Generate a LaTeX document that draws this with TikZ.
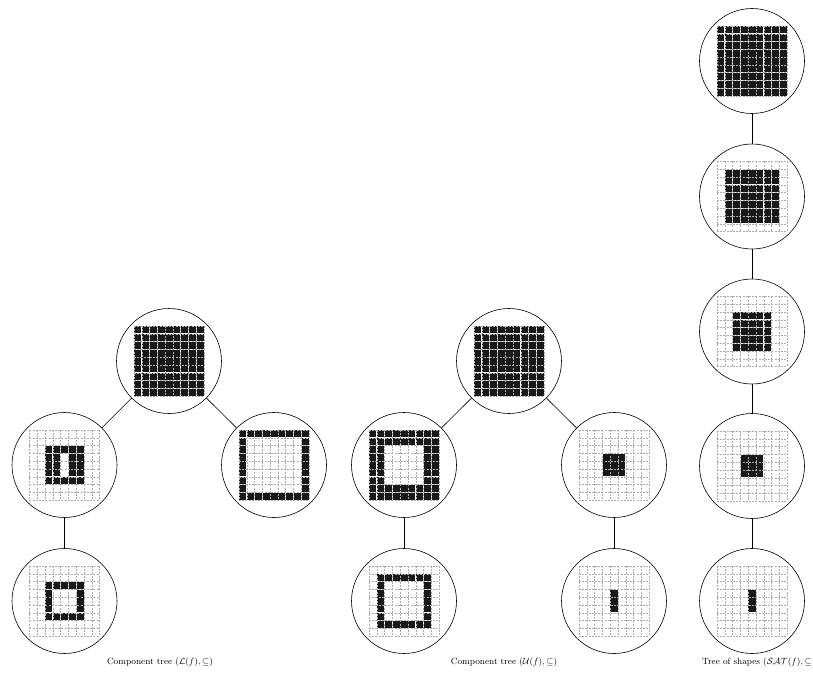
\documentclass[tikz,border=0pt]{standalone}
\usepackage{amsmath}
\usepackage{tikz}
\usetikzlibrary{positioning}

% 9x9 pixel image drawn at a node's centre; #2 is a pgfmath test in \r, \c and \dist
\newcommand{\cellw}{7.78}
\newcommand{\pixels}[2]{%
  \begin{scope}[shift={(#1.center)}]
    \foreach \r in {0,...,8} {
      \foreach \c in {0,...,8} {
        \pgfmathtruncatemacro{\dist}{max(abs(\r-4),abs(\c-4))}
        \pgfmathtruncatemacro{\pixon}{#2}
        \ifnum\pixon=1
          \fill[pix] ({(\c-4.5)*\cellw+0.35},{(\r-4.5)*\cellw+0.35}) rectangle ({(\c-3.5)*\cellw-0.35},{(\r-3.5)*\cellw-0.35});
        \fi
      }
    }
    \foreach \i in {0,...,9} {
      \draw[gridline] ({(\i-4.5)*\cellw},{-4.5*\cellw}) -- ({(\i-4.5)*\cellw},{4.5*\cellw});
      \draw[gridline] ({-4.5*\cellw},{(\i-4.5)*\cellw}) -- ({4.5*\cellw},{(\i-4.5)*\cellw});
    }
  \end{scope}}

\begin{document}
\begin{tikzpicture}[
    x=1pt, y=-1pt,
    tnode/.style={draw, circle, minimum size=105pt, inner sep=0pt, line width=0.6pt},
    pix/.style={fill=black!90},
    gridline/.style={gray!65, line width=0.35pt, dash pattern=on 2pt off 1.2pt},
    link/.style={line width=0.6pt},
    caption/.style={font=\small, inner sep=0pt}
  ]
    \useasboundingbox (0,0) rectangle (813,672);

    % component tree of lower level sets
    \node[tnode] (lroot)   at (169,361)   {};
    \node[tnode] (lleft)   at (64.5,465)  {};
    \node[tnode] (lright)  at (274,465)   {};
    \node[tnode] (lbottom) at (64.5,601)  {};

    % component tree of upper level sets
    \node[tnode] (uroot)     at (509,361) {};
    \node[tnode] (uleft)     at (404,465) {};
    \node[tnode] (uright)    at (614,465) {};
    \node[tnode] (uleftbot)  at (404,601) {};
    \node[tnode] (urightbot) at (614,601) {};

    % tree of shapes
    \node[tnode] (shape1) at (752,61)    {};
    \node[tnode] (shape2) at (752,196.5) {};
    \node[tnode] (shape3) at (752,331.5) {};
    \node[tnode] (shape4) at (752,466)   {};
    \node[tnode] (shape5) at (752,601)   {};

    \pixels{lroot}{1}
    \pixels{lleft}{and(\dist<=2, not(and(\c==4, abs(\r-4)<=1)))}
    \pixels{lright}{\dist==4}
    \pixels{lbottom}{\dist==2}

    \pixels{uroot}{1}
    \pixels{uleft}{\dist>=3}
    \pixels{uright}{\dist<=1}
    \pixels{uleftbot}{\dist==3}
    \pixels{urightbot}{and(\c==4, abs(\r-4)<=1)}

    \pixels{shape1}{1}
    \pixels{shape2}{\dist<=3}
    \pixels{shape3}{\dist<=2}
    \pixels{shape4}{\dist<=1}
    \pixels{shape5}{and(\c==4, abs(\r-4)<=1)}

    \draw[link] (lroot) -- (lleft);
    \draw[link] (lroot) -- (lright);
    \draw[link] (lleft) -- (lbottom);
    \draw[link] (uroot) -- (uleft);
    \draw[link] (uroot) -- (uright);
    \draw[link] (uleft) -- (uleftbot);
    \draw[link] (uright) -- (urightbot);
    \draw[link] (shape1) -- (shape2);
    \draw[link] (shape2) -- (shape3);
    \draw[link] (shape3) -- (shape4);
    \draw[link] (shape4) -- (shape5);

    \node[caption] (lcap) at (160,662) {Component tree $(\mathcal{L}(f),\subseteq)$};
    \node[caption] (ucap) at (504,662) {Component tree $(\mathcal{U}(f),\subseteq)$};
    \node[caption, anchor=east] (scap) at (812,662) {Tree of shapes $(\mathcal{SAT}(f),\subseteq$};
  \end{tikzpicture}
\end{document}
